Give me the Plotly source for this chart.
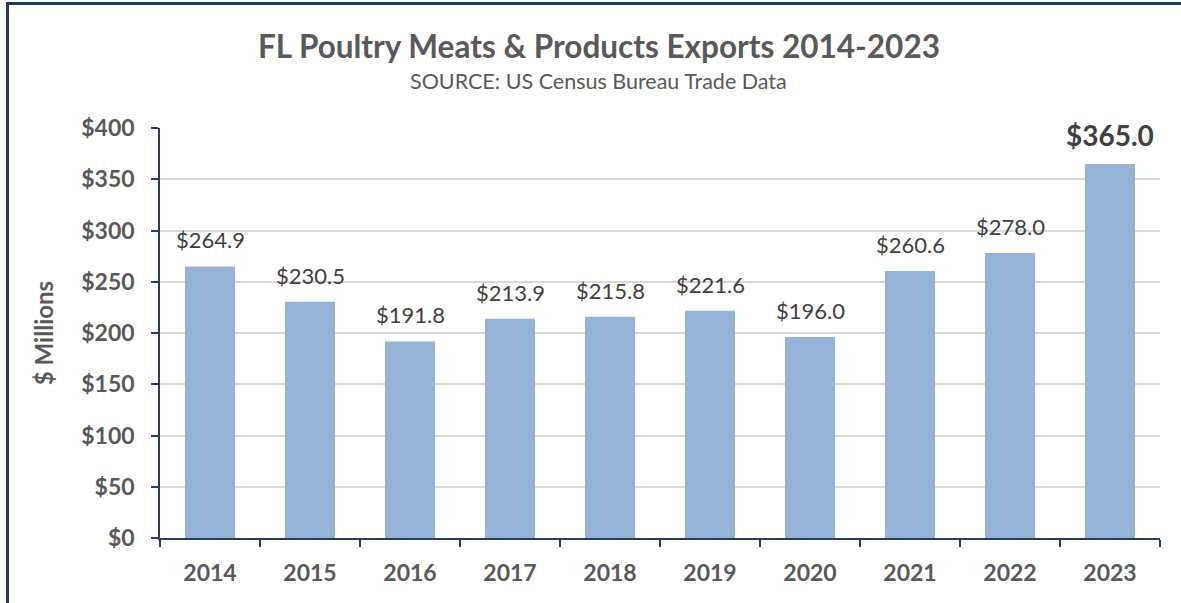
import plotly.graph_objects as go

years = ["2014", "2015", "2016", "2017", "2018", "2019", "2020", "2021", "2022", "2023"]
values = [264.9, 230.5, 191.8, 213.9, 215.8, 221.6, 196.0, 260.6, 278.0, 365.0]
y_ticks = [0, 50, 100, 150, 200, 250, 300, 350, 400]
y_tick_labels = ["$" + str(v) for v in y_ticks]

FONT = "Lato"
GREY = "#595959"
DARK = "#404040"
NAVY = "#243F60"

W, H = 1181, 603
L, R, T, B = 160, 21, 128, 65
pw, ph = W - L - R, H - T - B

def px(x):
    return (x - L) / pw

def py(y):
    return (H - B - y) / ph

fig = go.Figure()
fig.add_trace(go.Bar(
    x=years, y=values,
    marker=dict(color="#95B3D7", line=dict(width=0)),
    hoverinfo="skip",
))

annotations = []
for i, v in enumerate(values):
    last = i == len(values) - 1
    annotations.append(dict(
        x=i, y=v, xref="x", yref="y",
        text=("<b>$%.1f</b>" % v) if last else ("$%.1f" % v),
        showarrow=False, yanchor="bottom", yshift=10 if last else 11,
        font=dict(family=FONT, size=28 if last else 22, color=DARK),
    ))

annotations.append(dict(
    x=px(599), y=py(46), xref="paper", yref="paper",
    text="<b>FL Poultry Meats & Products Exports 2014-2023</b>",
    showarrow=False, xanchor="center", yanchor="middle",
    font=dict(family=FONT, size=31.5, color=GREY),
))
annotations.append(dict(
    x=px(598), y=py(81), xref="paper", yref="paper",
    text="SOURCE: US Census Bureau Trade Data",
    showarrow=False, xanchor="center", yanchor="middle",
    font=dict(family=FONT, size=21.5, color=GREY),
))

shapes = [
    dict(type="line", xref="paper", yref="paper",
         x0=px(7.5), x1=px(7.5), y0=py(603), y1=py(3.5),
         line=dict(color="#1F3A60", width=3)),
    dict(type="line", xref="paper", yref="paper",
         x0=px(6), x1=px(1181), y0=py(3.5), y1=py(3.5),
         line=dict(color="#1F3A60", width=3)),
]

fig.update_layout(
    width=W, height=H,
    margin=dict(l=L, r=R, t=T, b=B, pad=0, autoexpand=False),
    paper_bgcolor="white", plot_bgcolor="white",
    showlegend=False,
    bargap=0.5,
    annotations=annotations,
    shapes=shapes,
    xaxis=dict(
        type="category",
        range=[-0.5, len(years) - 0.5],
        automargin=False,
        tickangle=0,
        showline=True, linecolor=NAVY, linewidth=1.5,
        ticks="outside", tickson="boundaries", ticklen=7, tickcolor=NAVY, tickwidth=1.5,
        tickfont=dict(family=FONT, size=23, color=GREY, weight="bold"),
        showgrid=False,
        ticklabelstandoff=14,
    ),
    yaxis=dict(
        range=[0, 400],
        automargin=False,
        tickvals=y_ticks, ticktext=y_tick_labels,
        showline=True, linecolor=NAVY, linewidth=1.5,
        ticks="outside", ticklen=7, tickcolor=NAVY, tickwidth=1.5,
        tickfont=dict(family=FONT, size=23, color=GREY, weight="bold"),
        showgrid=True, gridcolor="#D9D9D9", gridwidth=1.5,
        zeroline=False,
        ticklabelstandoff=12,
        title=dict(text="$ Millions", font=dict(family=FONT, size=24, color=GREY, weight="bold"), standoff=21),
    ),
)

fig.write_html("out.html", config={"displayModeBar": False},
               post_script="document.body.style.margin='0';")
